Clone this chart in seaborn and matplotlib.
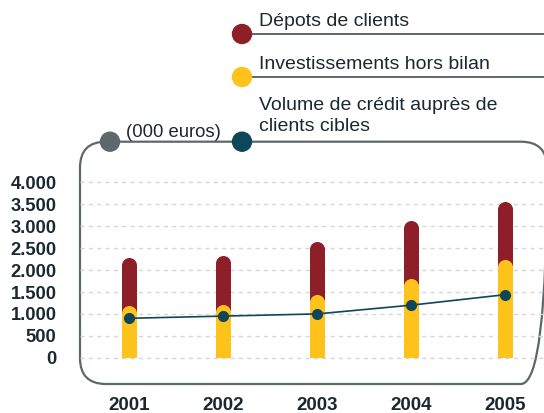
"""
Dépots, investissements et crédit - 2001-2005
"""

import matplotlib
matplotlib.use("Agg")
import matplotlib.pyplot as plt
from matplotlib.patches import Circle, FancyBboxPatch
import pandas as pd
import seaborn as sns

sns.set_theme(style="white")
plt.rcParams["font.family"] = ["Liberation Sans", "DejaVu Sans"]

years = ["2001", "2002", "2003", "2004", "2005"]
investissements = [1200, 1225, 1450, 1800, 2250]
depots = [1080, 1100, 1200, 1330, 1310]
credit = [900, 950, 1000, 1200, 1440]
y_ticks = [0, 500, 1000, 1500, 2000, 2500, 3000, 3500, 4000]
y_labels = ["0", "500", "1.000", "1.500", "2.000", "2.500", "3.000", "3.500", "4.000"]

RED = "#8e1f28"
YELLOW = "#fdc31a"
BLUE = "#0e465a"
GREY = "#5e686a"
TEXT = "#1b2830"

W, H = 544, 413
fig = plt.figure(figsize=(W / 100, H / 100), dpi=100)

# plot area in pixels
left, right, top, bottom = 80, 544, 141.7, 384
ax = fig.add_axes([left / W, 1 - bottom / H, (right - left) / W, (bottom - top) / H])
ax.patch.set_alpha(0)

px_per_unit = 43.8 / 1000
cap_r = 7.5 / px_per_unit  # radius of the rounded bar top, data units
bar_w = 0.16

totals = [i + d for i, d in zip(investissements, depots)]
df = pd.DataFrame({"year": years, "total": totals, "inv": investissements, "credit": credit})
df["total_body"] = df["total"] - cap_r
df["inv_body"] = df["inv"] - cap_r

sns.barplot(data=df, x="year", y="total_body", color=RED, width=bar_w,
            saturation=1, linewidth=0, edgecolor="none", ax=ax, zorder=2)
cap_size = (15 * 0.72) ** 2
ax.scatter(range(len(years)), df["total_body"], s=cap_size, color=RED,
           linewidths=0, zorder=3)
sns.barplot(data=df, x="year", y="inv_body", color=YELLOW, width=bar_w,
            saturation=1, linewidth=0, edgecolor="none", ax=ax, zorder=4)
ax.scatter(range(len(years)), df["inv_body"], s=cap_size, color=YELLOW,
           linewidths=0, zorder=5)

ax.plot(range(len(years)), df["credit"], color=BLUE, lw=1.2, marker="o",
        markersize=7, zorder=6)

ax.set_xlim(-0.524, 4.41)
ax.set_ylim(-600, 4931)
ax.set_yticks(y_ticks)
ax.set_yticklabels(y_labels)
for yv in y_ticks:
    ax.axhline(yv, color="#d6d6d6", lw=1, ls=(0, (3, 3)), zorder=1)
ax.set_xlabel("")
ax.set_ylabel("")
ax.tick_params(axis="y", length=0, pad=17, labelsize=13.2, labelcolor=TEXT)
ax.tick_params(axis="x", length=0, pad=9, labelsize=13.5, labelcolor=TEXT)
for lab in ax.get_xticklabels() + ax.get_yticklabels():
    lab.set_fontweight("bold")
for s in ax.spines.values():
    s.set_visible(False)

# overlay in pixel coordinates for the frame and the legend
lay = fig.add_axes([0, 0, 1, 1], zorder=-1)
lay.set_xlim(0, W)
lay.set_ylim(H, 0)
lay.axis("off")
lay.patch.set_alpha(0)

lay.add_patch(FancyBboxPatch((80, 141.7), 467, 242.3,
                             boxstyle="round,pad=0,rounding_size=26",
                             fill=False, ec=GREY, lw=1.6))
lay.add_patch(Circle((110, 141.7), 9.5, color=GREY, zorder=3))
lay.add_patch(Circle((242, 141.7), 9.5, color=BLUE, zorder=3))
lay.text(126, 137, "(000 euros)", fontsize=13.3, color=TEXT, va="baseline")

legend_items = [("Dépots de clients", RED, 34), ("Investissements hors bilan", YELLOW, 77)]
for label, col, yy in legend_items:
    lay.plot([242, W], [yy, yy], color=GREY, lw=1.4)
    lay.add_patch(Circle((242, yy), 9.5, color=col, zorder=3))
    lay.text(259, yy - 8, label, fontsize=14, color=TEXT, va="baseline")
lay.text(259, 110, "Volume de crédit auprès de", fontsize=14, color=TEXT, va="baseline")
lay.text(259, 131, "clients cibles", fontsize=14, color=TEXT, va="baseline")

fig.savefig("out.png", dpi=100)
plt.close(fig)
